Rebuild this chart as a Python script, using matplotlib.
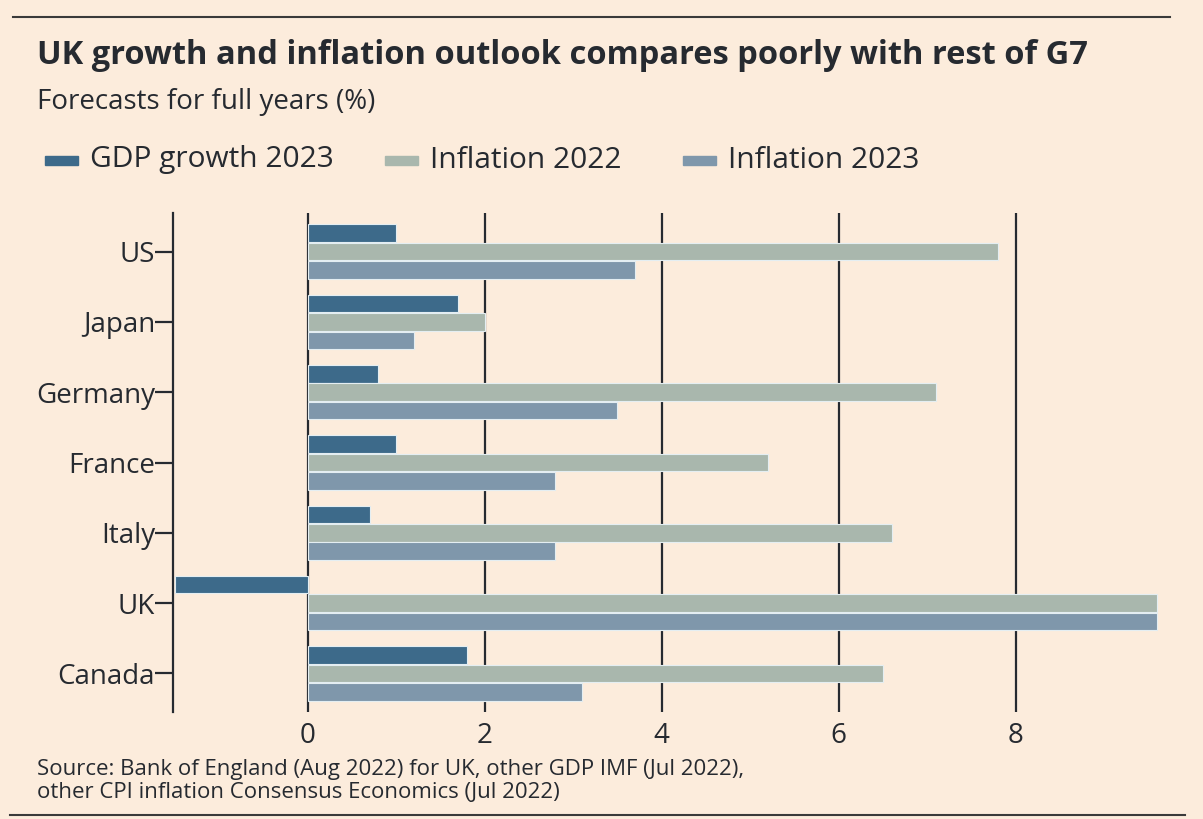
import matplotlib
matplotlib.use("Agg")
import matplotlib.pyplot as plt
import numpy as np

countries = ["US", "Japan", "Germany", "France", "Italy", "UK", "Canada"]
gdp_2023 = [1.0, 1.7, 0.8, 1.0, 0.7, -1.5, 1.8]
inflation_2022 = [7.8, 2.0, 7.1, 5.2, 6.6, 9.6, 6.5]
inflation_2023 = [3.7, 1.2, 3.5, 2.8, 2.8, 9.6, 3.1]
series_labels = ["GDP growth 2023", "Inflation 2022", "Inflation 2023"]
x_ticks = [0, 2, 4, 6, 8]

BG = "#fcecdc"
INK = "#262a30"
COLOURS = ["#3d6a8a", "#a9b7ad", "#7f97ab"]

plt.rcParams["font.family"] = ["Open Sans", "DejaVu Sans"]

W, H = 1203, 819
fig = plt.figure(figsize=(W / 100, H / 100), dpi=100, facecolor=BG)

def px(x, y):
    return x / W, 1 - y / H

ax = fig.add_axes([173 / W, 1 - 712 / H, (1160 - 173) / W, (712 - 213) / H])
ax.set_facecolor(BG)

y = np.arange(len(countries))
step = 0.262
height = 0.25
for i, (vals, col) in enumerate(zip([gdp_2023, inflation_2022, inflation_2023], COLOURS)):
    ax.barh(y + (i - 1) * step, vals, height, color=col,
            edgecolor="#e4eef2", linewidth=0.8, zorder=3)

for xv in x_ticks:
    ax.axvline(xv, color=INK, lw=1.6, zorder=2)

ax.set_xlim(-1.52, 9.63)
ax.set_ylim(len(countries) - 0.45, -0.55)
ax.set_yticks(y)
ax.set_yticklabels(countries)
ax.set_xticks(x_ticks)
ax.set_xticklabels([str(v) for v in x_ticks])
ax.tick_params(axis="y", length=13, width=1.6, color=INK, pad=0,
               labelsize=20, labelcolor=INK)
ax.tick_params(axis="x", length=0, pad=7, labelsize=20, labelcolor=INK)
for s in ["top", "right", "bottom"]:
    ax.spines[s].set_visible(False)
ax.spines["left"].set_color(INK)
ax.spines["left"].set_linewidth(1.6)

# header
fig.text(*px(37, 55), "UK growth and inflation outlook compares poorly with rest of G7",
         fontsize=23.5, fontweight="bold", color=INK, va="center", ha="left")
fig.text(*px(37, 102), "Forecasts for full years (%)",
         fontsize=20, color=INK, va="center", ha="left")

legend_x = [45, 385, 683]
for lx, lab, col in zip(legend_x, series_labels, COLOURS):
    fig.patches.append(plt.Rectangle(px(lx, 165), 33 / W, 9 / H,
                                     transform=fig.transFigure, color=col))
    fig.text(*px(lx + 45, 160), lab, fontsize=21.5, color=INK,
             va="center", ha="left")

fig.text(*px(37, 770), "Source: Bank of England (Aug 2022) for UK, other GDP IMF (Jul 2022),",
         fontsize=16, color=INK, va="center", ha="left")
fig.text(*px(37, 793), "other CPI inflation Consensus Economics (Jul 2022)",
         fontsize=16, color=INK, va="center", ha="left")

fig.add_artist(plt.Line2D([13 / W, 1170 / W], [1 - 17 / H] * 2,
                          color="#3a3a3a", lw=1.5, transform=fig.transFigure))
fig.add_artist(plt.Line2D([10 / W, 1185 / W], [1 - 815 / H] * 2,
                          color="#3a3a3a", lw=1.5, transform=fig.transFigure))

fig.savefig("out.png", dpi=100, facecolor=BG)
